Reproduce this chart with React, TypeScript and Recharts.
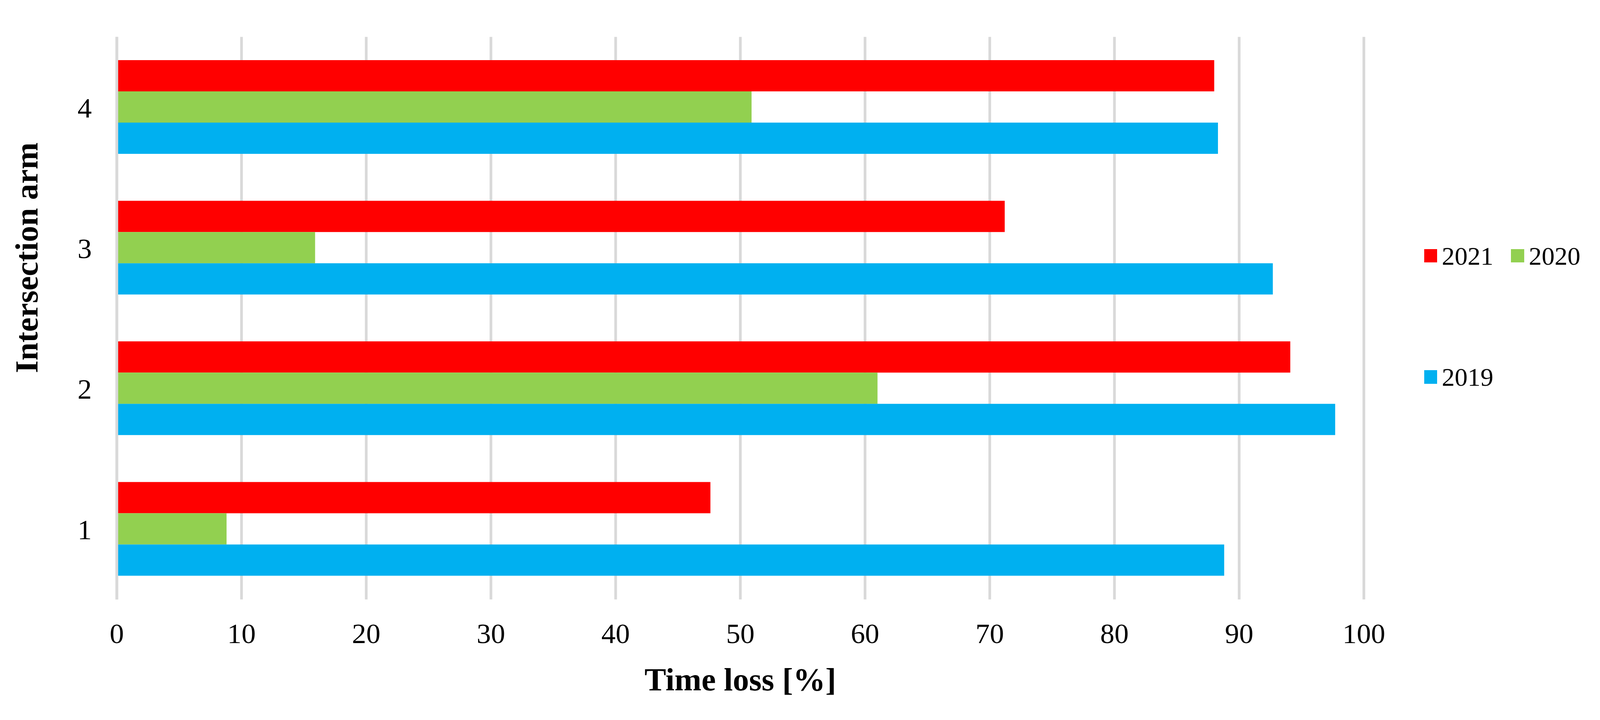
import React from "react"
import {
  Bar,
  BarChart,
  CartesianGrid,
  Label,
  Legend,
  ReferenceLine,
  XAxis,
  YAxis,
} from "recharts"

// intersection arms, top to bottom as drawn
const arms = ["4", "3", "2", "1"]
const loss2021 = [88.0, 71.2, 94.1, 47.6]
const loss2020 = [50.9, 15.9, 61.0, 8.8]
const loss2019 = [88.3, 92.7, 97.7, 88.8]
const xTicks = [0, 10, 20, 30, 40, 50, 60, 70, 80, 90, 100]

const series = [
  { key: "y2021", name: "2021", color: "#ff0000" },
  { key: "y2020", name: "2020", color: "#92d050" },
  { key: "y2019", name: "2019", color: "#00b0f0" },
]

const data = arms.map((arm, i) => ({
  arm,
  y2021: loss2021[i],
  y2020: loss2020[i],
  y2019: loss2019[i],
}))

const FONT = "'Liberation Serif', 'Times New Roman', serif"

// design size of the reference; laid out in these units, then scaled
// uniformly to the real viewport width
const W = 4157
const H = 1844

export default function App() {
  const k = typeof window !== "undefined" && window.innerWidth ? window.innerWidth / W : 1
  const s = (v: number) => v * k

  const LegendItem = ({ color, label }: { color: string; label: string }) => (
    <div style={{ display: "flex", alignItems: "center", height: s(66), marginRight: s(46) }}>
      <span style={{ width: s(34), height: s(35), background: color, marginRight: s(12), flex: "none" }} />
      <span style={{ fontFamily: FONT, fontSize: s(67), lineHeight: `${s(66)}px`, color: "#000", whiteSpace: "nowrap" }}>
        {label}
      </span>
    </div>
  )

  const renderLegend = () => (
    <div>
      <div style={{ display: "flex" }}>
        {series.slice(0, 2).map((d) => (
          <LegendItem key={d.key} color={d.color} label={d.name} />
        ))}
      </div>
      <div style={{ display: "flex", marginTop: s(249) }}>
        {series.slice(2).map((d) => (
          <LegendItem key={d.key} color={d.color} label={d.name} />
        ))}
      </div>
    </div>
  )

  return (
    <div style={{ width: s(W), height: s(H), background: "#fff", overflow: "hidden" }}>
      <style>{`html,body{margin:0;padding:0;overflow:hidden}`}</style>
      <BarChart
        width={s(W)}
        height={s(H)}
        data={data}
        layout="vertical"
        margin={{ top: s(96), right: s(613.5), bottom: 0, left: 0 }}
        barCategoryGap="16.5%"
        barGap={0}
      >
        <CartesianGrid horizontal={false} stroke="#d9d9d9" strokeWidth={s(7)} />
        <XAxis
          type="number"
          domain={[0, 100]}
          ticks={xTicks}
          interval={0}
          height={s(286)}
          tickLine={false}
          axisLine={false}
          tickSize={0}
          tickMargin={s(61)}
          tick={{ fontSize: s(74), fill: "#000", fontFamily: FONT }}
        >
          <Label
            content={({ viewBox }: any) => (
              <text
                x={viewBox.x + viewBox.width / 2}
                y={viewBox.y + s(236)}
                textAnchor="middle"
                fontFamily={FONT}
                fontWeight="bold"
                fontSize={s(84)}
                fill="#000"
              >
                Time loss [%]
              </text>
            )}
          />
        </XAxis>
        <YAxis
          type="category"
          dataKey="arm"
          width={s(303.5)}
          tickLine={false}
          axisLine={false}
          tickSize={0}
          tickMargin={s(65)}
          tick={{ fontSize: s(74), fill: "#000", fontFamily: FONT }}
        >
          <Label
            content={() => (
              <text
                x={s(97)}
                y={s(670)}
                transform={`rotate(-90, ${s(97)}, ${s(670)})`}
                textAnchor="middle"
                fontFamily={FONT}
                fontWeight="bold"
                fontSize={s(84)}
                fill="#000"
              >
                Intersection arm
              </text>
            )}
          />
        </YAxis>
        {series.map((d) => (
          <Bar key={d.key} dataKey={d.key} name={d.name} fill={d.color} isAnimationActive={false} />
        ))}
        <ReferenceLine x={0} stroke="#d9d9d9" strokeWidth={s(7)} />
        <Legend
          layout="horizontal"
          align="center"
          verticalAlign="middle"
          content={renderLegend}
          wrapperStyle={{ left: s(3700), top: s(632), width: s(450), height: "auto" }}
        />
      </BarChart>
    </div>
  )
}
